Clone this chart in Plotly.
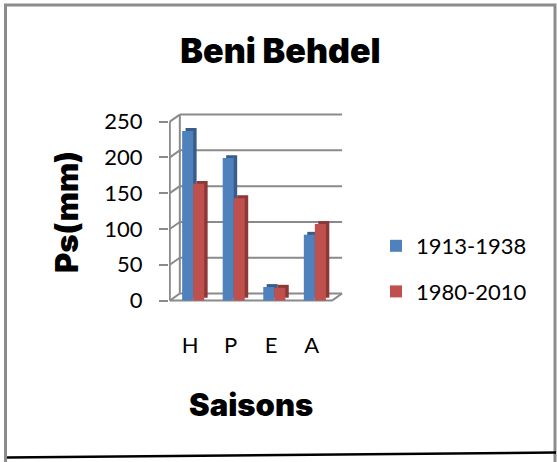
import plotly.graph_objects as go

# ---- data ----
seasons = ["H", "P", "E", "A"]
series_names = ["1913-1938", "1980-2010"]
ps_1913_1938 = [237, 199, 19, 92]
ps_1980_2010 = [163, 143, 18, 107]
y_ticks = [0, 50, 100, 150, 200, 250]

title_text = "Beni Behdel"
x_title = "Saisons"
y_title = "Ps(mm)"

# ---- styling ----
W, H = 557, 462
ML, MR, MT, MB = 169, 214, 113, 160
PW = W - ML - MR
PH = H - MT - MB
XR = [-0.52, 3.77]
YR = [-2, 262]

front_cols = ["#4F81BD", "#C0504D"]
side_cols = ["#385D8A", "#8C3836"]
grid_col = "#8A8A8A"

bar_w = 0.272
offsets = [-0.196, 0.076]
depth_dx = 0.085
depth_dy = 4.0
wall_dx = 0.247
wall_dy = 9.8

def px2paper_x(px):
    return (px - ML) / PW

def px2paper_y(py):
    return (H - MB - py) / PH

fig = go.Figure()
xs = list(range(len(seasons)))
for vals, name, fc, sc, off in zip([ps_1913_1938, ps_1980_2010], series_names,
                                   front_cols, side_cols, offsets):
    # depth (side / top) face
    fig.add_trace(go.Bar(x=xs, y=vals, base=depth_dy, offset=off + depth_dx,
                         width=bar_w, marker=dict(color=sc, line=dict(width=0)),
                         showlegend=False, hoverinfo="skip"))
    # front face
    fig.add_trace(go.Bar(x=xs, y=vals, name=name, offset=off, width=bar_w,
                         marker=dict(color=fc, line=dict(width=0)),
                         legendgroup=name, hoverinfo="skip"))

shapes = []
gl = dict(color=grid_col, width=2)
for v in y_ticks:
    shapes.append(dict(type="line", xref="x", yref="y", x0=-0.5, y0=v,
                       x1=-0.5 + wall_dx, y1=v + wall_dy, line=gl, layer="below"))
    shapes.append(dict(type="line", xref="x", yref="y", x0=-0.5 + wall_dx, y0=v + wall_dy,
                       x1=3.5 + wall_dx, y1=v + wall_dy, line=gl, layer="below"))
shapes.append(dict(type="line", xref="x", yref="y", x0=-0.5, y0=0, x1=-0.5, y1=250,
                   line=gl, layer="below"))
shapes.append(dict(type="line", xref="x", yref="y", x0=-0.5 + wall_dx, y0=wall_dy,
                   x1=-0.5 + wall_dx, y1=250 + wall_dy, line=gl, layer="below"))
shapes.append(dict(type="line", xref="x", yref="y", x0=-0.5, y0=0, x1=3.5, y1=0,
                   line=gl, layer="below"))
shapes.append(dict(type="line", xref="x", yref="y", x0=3.5, y0=0, x1=3.5 + wall_dx,
                   y1=wall_dy, line=gl, layer="below"))

# outer chart frame
shapes.append(dict(type="rect", xref="paper", yref="paper",
                   x0=px2paper_x(5.5), x1=px2paper_x(555), y0=px2paper_y(470),
                   y1=px2paper_y(5), line=dict(color="#8C8C8C", width=3)))
shapes.append(dict(type="line", xref="paper", yref="paper",
                   x0=px2paper_x(7), y0=px2paper_y(457.5), x1=px2paper_x(556),
                   y1=px2paper_y(452.5), line=dict(color="#000000", width=2.5)))

heavy = dict(family="Inter", size=31, color="#000000", weight=900)
title_font = dict(family="Inter", size=34, color="#000000", weight=900)
annotations = [
    dict(text=y_title, xref="paper", yref="paper", x=px2paper_x(66), y=px2paper_y(212),
         textangle=-90, showarrow=False, font=heavy, xanchor="center", yanchor="middle"),
    dict(text=x_title, xref="paper", yref="paper", x=px2paper_x(251), y=px2paper_y(404),
         showarrow=False, font=heavy, xanchor="center", yanchor="middle"),
]

fig.update_layout(
    width=W, height=H,
    margin=dict(l=ML, r=MR, t=MT, b=MB, autoexpand=False),
    paper_bgcolor="white", plot_bgcolor="white",
    barmode="overlay",
    title=dict(text=title_text, font=title_font, x=280.5 / W, y=1 - 51 / H,
               xref="container", yref="container", xanchor="center", yanchor="middle"),
    xaxis=dict(range=XR, tickvals=xs, ticktext=seasons, showgrid=False, zeroline=False,
               showline=False, ticks="", ticklabelstandoff=28,
               tickfont=dict(family="Lato", size=22, color="#000000")),
    yaxis=dict(range=YR, tickvals=y_ticks, showgrid=False, zeroline=False, showline=False,
               ticks="outside", ticklen=9, tickwidth=2, tickcolor=grid_col,
               ticklabelstandoff=12,
               tickfont=dict(family="Lato", size=22, color="#000000")),
    legend=dict(x=px2paper_x(376), y=px2paper_y(225), xanchor="left", yanchor="top",
                font=dict(family="Lato", size=22, color="#000000"),
                tracegroupgap=14, bgcolor="rgba(0,0,0,0)"),
    shapes=shapes,
    annotations=annotations,
)

fig.write_html("out.html", config={"displayModeBar": False},
               post_script="document.body.style.margin='0';document.body.style.overflow='hidden';")
